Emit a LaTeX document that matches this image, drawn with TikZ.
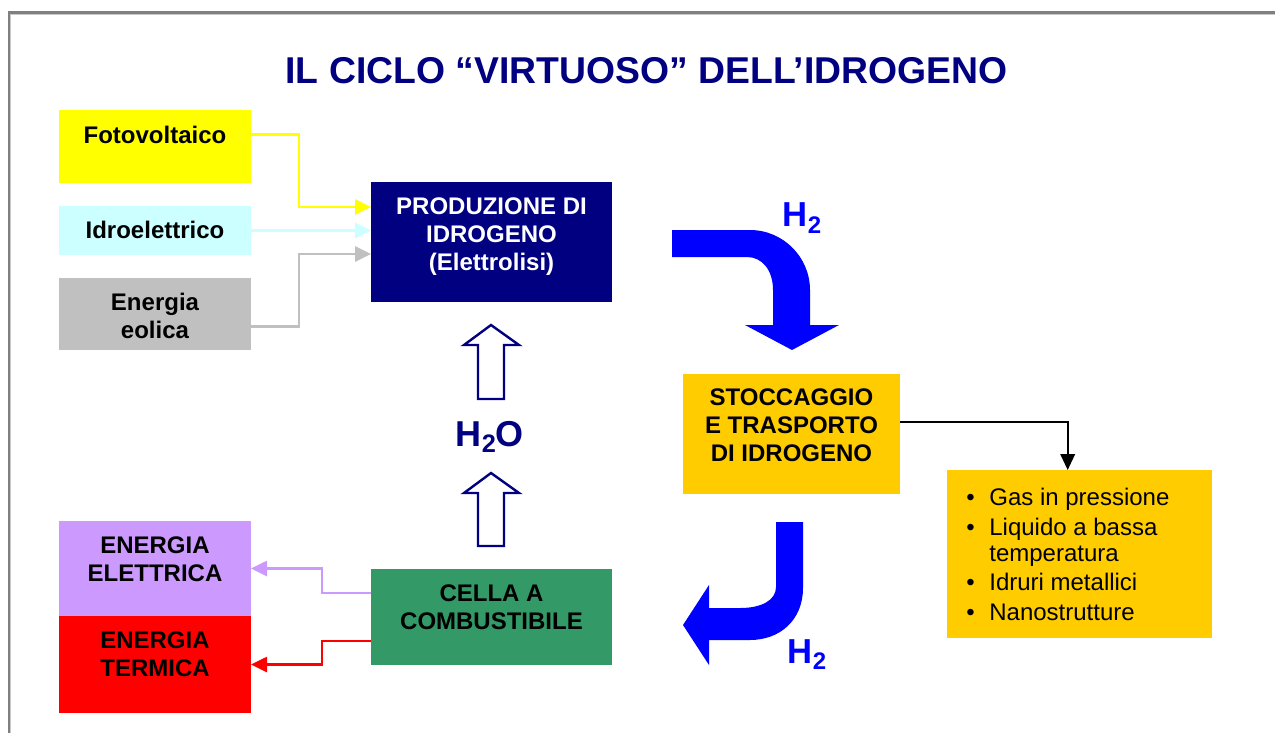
\documentclass[tikz,border=0pt]{standalone}
\usepackage{fontspec}
\setmainfont{Liberation Sans}
\usetikzlibrary{arrows.meta}
\definecolor{cfoto}{RGB}{255,255,0}
\definecolor{cidro}{RGB}{204,255,255}
\definecolor{ceol}{RGB}{192,192,192}
\definecolor{cnavy}{RGB}{0,0,128}
\definecolor{cgold}{RGB}{255,204,0}
\definecolor{cgreen}{RGB}{51,153,102}
\definecolor{cpurple}{RGB}{204,153,255}
\definecolor{cred}{RGB}{255,0,0}
\definecolor{cblue}{RGB}{0,0,255}
\definecolor{cframe}{RGB}{128,128,128}
\definecolor{cframelight}{RGB}{200,200,200}
\begin{document}
\begin{tikzpicture}[x=0.75pt,y=-0.75pt,
  box/.style={rectangle, inner sep=0pt, outer sep=0pt, draw=none, minimum width=144pt},
  lbl/.style={font=\bfseries\fontsize{18}{21}\selectfont, align=center, inner sep=0pt},
  conn/.style={line width=2pt, -{Triangle[length=12pt,width=11.25pt]}},
  hlbl/.style={font=\bfseries\fontsize{26}{30}\selectfont, inner sep=0pt, anchor=base west},
  blockup/.style={draw=cnavy, line width=1.8pt, fill=white, line join=miter},
  bent/.style={fill=cblue, draw=none}
]
\useasboundingbox (0,0) rectangle (1275,733);
% frame
\draw[cframe, line width=2pt] (9,733) -- (9,12.3) -- (1275,12.3);
\draw[cframelight, line width=0.9pt] (10.8,733) -- (10.8,14.1) -- (1275,14.1);

% title
\node[font=\bfseries\fontsize{28}{32}\selectfont, text=cnavy, inner sep=0pt] (title) at (646.5,71) {IL CICLO “VIRTUOSO” DELL’IDROGENO};

% source boxes
\node[box, fill=cfoto, minimum height=54.75pt] (foto) at (155,146.5) {};
\node[lbl] (tfoto) at (155,135) {Fotovoltaico};
\node[box, fill=cidro, minimum height=36.75pt] (idro) at (155,230.5) {};
\node[lbl] (tidro) at (155,230) {Idroelettrico};
\node[box, fill=ceol, minimum height=54pt] (eol) at (155,314) {};
\node[lbl] (teol) at (155,316) {Energia\\eolica};

% production
\node[box, fill=cnavy, minimum width=180.75pt, minimum height=90pt] (prod) at (491.5,242) {};
\node[lbl, text=white] (tprod) at (491.5,236.5) {PRODUZIONE DI\\IDROGENO\\(Elettrolisi)};

% storage
\node[box, fill=cgold, minimum width=162.75pt, minimum height=90pt] (stocc) at (791.5,434) {};
\node[lbl] (tstocc) at (791.5,425) {STOCCAGGIO\\E TRASPORTO\\DI IDROGENO};

% list
\node[box, fill=cgold, minimum width=198.75pt, minimum height=126pt] (list) at (1079.5,554) {};
\node[inner sep=0pt, anchor=north west, font=\fontsize{18}{19.7}\selectfont] (tlist) at (966,487) {%
\begin{tabular}{@{}c@{\hspace{11pt}}l@{}}
• & Gas in pressione\\[2.4pt]
• & Liquido a bassa\\
  & temperatura\\[2.4pt]
• & Idruri metallici\\[2.4pt]
• & Nanostrutture
\end{tabular}};

% fuel cell
\node[box, fill=cgreen, minimum width=180.75pt, minimum height=72pt] (cella) at (491.5,617) {};
\node[lbl] (tcella) at (491.5,607) {CELLA A\\COMBUSTIBILE};

% outputs
\node[box, fill=cpurple, minimum height=71.25pt] (elett) at (155,568.5) {};
\node[lbl] (telett) at (155,559) {ENERGIA\\ELETTRICA};
\node[box, fill=cred, minimum height=72.75pt] (term) at (155,664.5) {};
\node[lbl] (tterm) at (155,654) {ENERGIA\\TERMICA};

% connectors to production
\draw[conn, cfoto] ([yshift=9.2pt]foto.east) -- ++(48,0) |- ([yshift=26.25pt]prod.west);
\draw[conn, cidro] (idro.east) -- (idro.east -| prod.west);
\draw[conn, ceol] ([yshift=-9.5pt]eol.east) -- ++(48,0) |- ([yshift=-9pt]prod.west);

% connectors from fuel cell
\draw[conn, cpurple] ([yshift=18pt]cella.west) -- ++(-49,0) |- (elett.east);
\draw[conn, cred] ([yshift=-18pt]cella.west) -- ++(-49,0) |- (term.east);

% storage to list
\draw[line width=1.2pt, -{Triangle[length=12pt,width=11pt]}] ([yshift=8.8pt]stocc.east) -| ([xshift=-8.85pt]list.north);

% H2O block arrows
\draw[blockup] (491,325) -- (519,345) -- (504,345) -- (504,399) -- (478,399) -- (478,345) -- (464,345) -- cycle;
\draw[blockup] (491,473) -- (519,493) -- (504,493) -- (504,546) -- (478,546) -- (478,493) -- (464,493) -- cycle;
\node[hlbl, text=cnavy, font=\bfseries\fontsize{27}{30}\selectfont] (h2o) at (455.5,446) {H\raisebox{-5pt}{\fontsize{19}{19}\selectfont 2}O};

% bent arrows
\fill[bent] (672,230) -- (750,230) .. controls (783,230) and (810,257) .. (810,290)
  -- (810,325) -- (839,325) -- (792,350) -- (745,325) -- (773,325) -- (773,290)
  .. controls (773,270) and (762,257) .. (747,257) -- (672,257) -- cycle;
\node[hlbl, text=cblue] (h2a) at (782.5,226.7) {H\raisebox{-5pt}{\fontsize{18}{18}\selectfont 2}};

\fill[bent] (776,522) -- (803,522) -- (803,588) .. controls (803,620) and (780,640) .. (750,640)
  -- (709,640) -- (709,665) -- (683,625) -- (709,585) -- (709,608) -- (740,608)
  .. controls (762,608) and (776,600) .. (776,587) -- cycle;
\node[hlbl, text=cblue] (h2b) at (787.5,663.3) {H\raisebox{-5pt}{\fontsize{18}{18}\selectfont 2}};
\end{tikzpicture}
\end{document}
